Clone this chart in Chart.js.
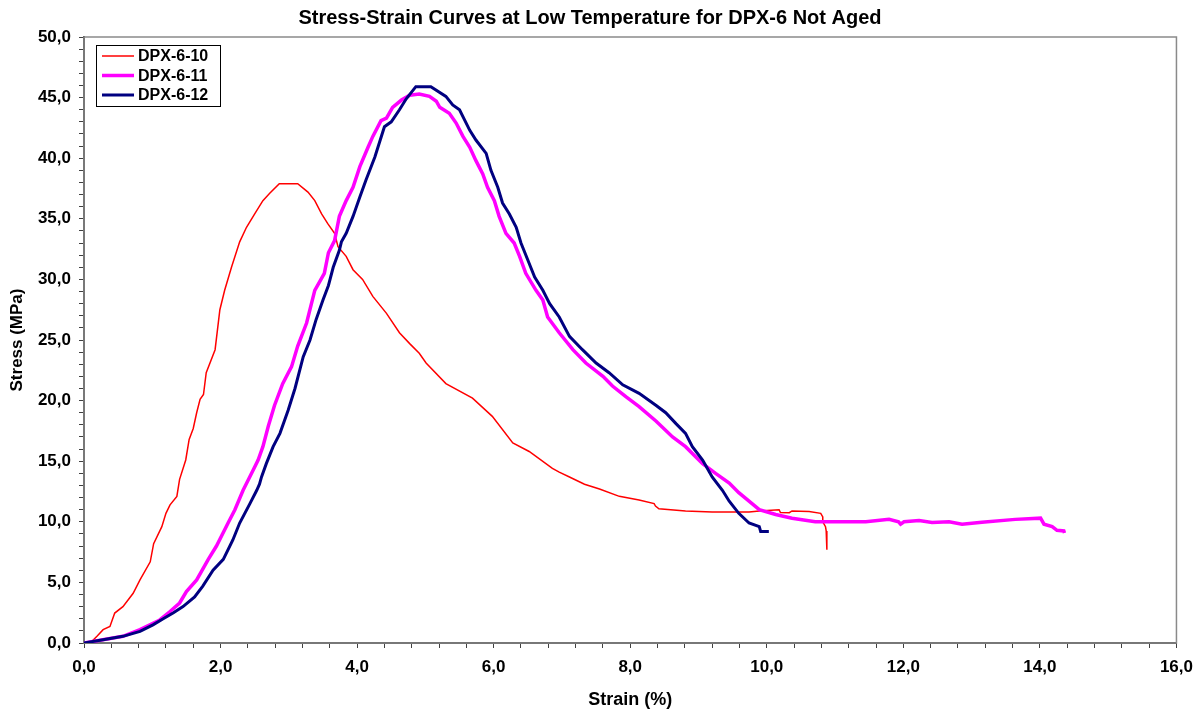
<!DOCTYPE html>
<html>
<head>
<meta charset="utf-8">
<script src="https://cdn.jsdelivr.net/npm/chart.js@4"></script>
<style>
  html, body { margin: 0; padding: 0; background: #fff; }
  #wrap { width: 1202px; height: 713px; }
</style>
</head>
<body>
<div id="wrap"><canvas id="stress"></canvas></div>
<script>
// DPX-6-10
const strain10 = [0, 0.09, 0.19, 0.28, 0.38, 0.45, 0.57, 0.72, 0.82, 0.97, 1.02, 1.14, 1.20, 1.26, 1.36, 1.40,
  1.49, 1.54, 1.60, 1.65, 1.70, 1.75, 1.79, 1.92, 1.99, 2.06, 2.16, 2.28, 2.38, 2.50, 2.62, 2.72, 2.86, 3.13,
  3.28, 3.38, 3.48, 3.57, 3.67, 3.72, 3.84, 3.94, 4.08, 4.23, 4.43, 4.62, 4.77, 4.91, 5.01, 5.30, 5.69, 5.98,
  6.28, 6.52, 6.86, 6.96, 7.11, 7.33, 7.55, 7.84, 8.13, 8.35, 8.37, 8.42, 8.81, 9.20, 9.74, 9.89, 10.18, 10.20,
  10.33, 10.37, 10.62, 10.79, 10.82, 10.82, 10.86, 10.87, 10.88];
const stress10 = [0, 0, 0.55, 1.1, 1.37, 2.47, 3.0, 4.1, 5.2, 6.7, 8.2, 9.6, 10.7, 11.4, 12.1, 13.5,
  15.1, 16.8, 17.7, 19.0, 20.1, 20.5, 22.3, 24.2, 27.5, 29.1, 31.0, 33.1, 34.3, 35.4, 36.5, 37.1, 37.9, 37.9,
  37.2, 36.5, 35.4, 34.6, 33.8, 32.7, 31.9, 30.8, 30.0, 28.6, 27.2, 25.6, 24.7, 23.9, 23.1, 21.4, 20.2, 18.7,
  16.5, 15.8, 14.4, 14.1, 13.7, 13.1, 12.7, 12.1, 11.8, 11.5, 11.3, 11.07, 10.9, 10.8, 10.8, 10.9, 11.0, 10.77,
  10.75, 10.9, 10.85, 10.7, 10.4, 10.0, 9.6, 9.25, 7.7];

// DPX-6-11
const strain11 = [0, 0.57, 0.82, 1.11, 1.26, 1.40, 1.50, 1.65, 1.82, 1.94, 2.11, 2.21, 2.33, 2.48, 2.55, 2.62,
  2.70, 2.79, 2.91, 3.04, 3.13, 3.26, 3.38, 3.52, 3.58, 3.67, 3.74, 3.84, 3.94, 4.04, 4.16, 4.23, 4.35, 4.43,
  4.52, 4.65, 4.77, 4.91, 5.06, 5.16, 5.21, 5.35, 5.45, 5.55, 5.65, 5.74, 5.84, 5.91, 6.01, 6.08, 6.18, 6.30,
  6.38, 6.47, 6.62, 6.72, 6.79, 6.96, 7.16, 7.35, 7.60, 7.74, 7.94, 8.13, 8.38, 8.62, 8.81, 9.06, 9.25, 9.45,
  9.59, 9.74, 9.89, 10.13, 10.37, 10.71, 11.45, 11.79, 11.93, 11.96, 12.01, 12.23, 12.42, 12.67, 12.86, 13.15,
  13.64, 14.01, 14.06, 14.18, 14.25, 14.35, 14.36];
const stress11 = [0, 0.55, 1.1, 1.9, 2.6, 3.3, 4.25, 5.2, 6.9, 8.0, 9.9, 11.0, 12.6, 14.3, 15.1, 16.2,
  17.9, 19.6, 21.4, 22.8, 24.5, 26.4, 29.1, 30.5, 32.2, 33.2, 35.2, 36.5, 37.6, 39.3, 40.9, 41.8, 43.1, 43.3,
  44.2, 44.8, 45.2, 45.3, 45.1, 44.7, 44.2, 43.7, 42.9, 41.8, 40.9, 39.8, 38.7, 37.6, 36.5, 35.2, 33.8, 33.0,
  31.9, 30.5, 29.1, 28.3, 26.9, 25.6, 24.2, 23.1, 22.0, 21.2, 20.3, 19.5, 18.3, 17.0, 16.2, 14.8, 14.0, 13.2,
  12.4, 11.7, 11.0, 10.6, 10.3, 10.0, 10.0, 10.2, 10.0, 9.8, 10.0, 10.1, 9.95, 10.0, 9.8, 9.97,
  10.2, 10.3, 9.8, 9.6, 9.3, 9.25, 9.07];

// DPX-6-12
const strain12 = [0, 0.28, 0.57, 0.82, 1.01, 1.16, 1.31, 1.45, 1.62, 1.74, 1.89, 2.04, 2.18, 2.28, 2.43, 2.53,
  2.57, 2.60, 2.67, 2.77, 2.87, 2.99, 3.09, 3.21, 3.31, 3.40, 3.50, 3.58, 3.65, 3.74, 3.77, 3.84, 3.94, 4.04,
  4.13, 4.26, 4.40, 4.50, 4.62, 4.72, 4.86, 5.08, 5.30, 5.40, 5.50, 5.57, 5.65, 5.74, 5.89, 5.96, 6.06, 6.13,
  6.23, 6.33, 6.40, 6.50, 6.60, 6.72, 6.82, 6.96, 7.11, 7.30, 7.50, 7.69, 7.89, 8.13, 8.38, 8.52, 8.67, 8.81,
  8.91, 9.06, 9.20, 9.35, 9.45, 9.59, 9.74, 9.89, 9.91, 10.03];
const stress12 = [0, 0.27, 0.55, 0.96, 1.5, 2.0, 2.5, 3.0, 3.8, 4.7, 6.0, 6.9, 8.5, 9.9, 11.5, 12.6,
  13.1, 13.7, 14.8, 16.2, 17.3, 19.2, 21.0, 23.6, 25.0, 26.7, 28.3, 29.5, 31.0, 32.4, 33.1, 33.8, 35.2, 36.8,
  38.2, 40.1, 42.6, 43.0, 44.0, 44.9, 45.9, 45.9, 45.1, 44.4, 44.0, 43.2, 42.3, 41.5, 40.4, 39.0, 37.6, 36.3,
  35.4, 34.3, 33.0, 31.6, 30.2, 29.1, 28.0, 26.9, 25.3, 24.2, 23.1, 22.3, 21.3, 20.6, 19.6, 19.0, 18.1, 17.3,
  16.2, 15.1, 13.7, 12.6, 11.7, 10.7, 9.9, 9.6, 9.2, 9.2];

const seriesNames = ['DPX-6-10', 'DPX-6-11', 'DPX-6-12'];

function toPoints(xs, ys) {
  return xs.map((x, i) => ({ x: x, y: ys[i] }));
}

const FONT = "'Liberation Sans', Arial, sans-serif";
const comma = v => v.toFixed(1).replace('.', ',');
const isMult = (v, m) => Math.abs(v / m - Math.round(v / m)) < 1e-6;

// grey frame round the plot area
const framePlugin = {
  id: 'frame',
  beforeDatasetsDraw(chart) {
    const a = chart.chartArea, ctx = chart.ctx;
    ctx.save();
    ctx.strokeStyle = '#8a8a8a';
    ctx.lineWidth = 1.5;
    ctx.strokeRect(a.left, a.top, a.right - a.left, a.bottom - a.top);
    ctx.restore();
  }
};

// legend box in the top left corner of the plot
const boxLegend = {
  id: 'boxLegend',
  afterDraw(chart) {
    const ctx = chart.ctx;
    const a = chart.chartArea;
    const x0 = a.left + 12, y0 = a.top + 8, w = 124, h = 61;
    ctx.save();
    ctx.fillStyle = '#fff';
    ctx.fillRect(x0, y0, w, h);
    ctx.strokeStyle = '#000';
    ctx.lineWidth = 1;
    ctx.strokeRect(x0 + 0.5, y0 + 0.5, w, h);
    ctx.font = 'bold 16px ' + FONT;
    ctx.textBaseline = 'middle';
    chart.data.datasets.forEach((ds, i) => {
      const y = y0 + 11 + i * 19.5;
      ctx.strokeStyle = ds.borderColor;
      ctx.lineWidth = ds.borderWidth;
      ctx.beginPath();
      ctx.moveTo(x0 + 6, y);
      ctx.lineTo(x0 + 38, y);
      ctx.stroke();
      ctx.fillStyle = '#000';
      ctx.fillText(ds.label, x0 + 42, y + 1);
    });
    ctx.restore();
  }
};

new Chart(document.getElementById('stress'), {
  type: 'scatter',
  data: {
    datasets: [
      {
        label: seriesNames[0],
        data: toPoints(strain10, stress10),
        borderColor: '#FF0000',
        borderWidth: 1.5,
        order: 3
      },
      {
        label: seriesNames[1],
        data: toPoints(strain11, stress11),
        borderColor: '#FF00FF',
        borderWidth: 3.5,
        order: 2
      },
      {
        label: seriesNames[2],
        data: toPoints(strain12, stress12),
        borderColor: '#000080',
        borderWidth: 3,
        order: 1
      }
    ]
  },
  options: {
    responsive: true,
    maintainAspectRatio: false,
    animation: false,
    showLine: true,
    elements: {
      point: { radius: 0, hoverRadius: 0 },
      line: { tension: 0, fill: false }
    },
    layout: { padding: { left: 0, right: 22, top: 0, bottom: 0 } },
    plugins: {
      legend: { display: false },
      tooltip: { enabled: false },
      title: {
        display: true,
        text: 'Stress-Strain Curves at Low Temperature for DPX-6 Not Aged',
        color: '#000',
        font: { family: FONT, size: 20, weight: 'bold' },
        padding: { top: 6, bottom: 7 }
      }
    },
    scales: {
      x: {
        type: 'linear',
        min: 0,
        max: 16,
        afterFit(scale) { scale.height = 70; },
        border: { color: '#404040', width: 2 },
        grid: { drawOnChartArea: false, drawTicks: true, tickLength: 5, tickColor: '#404040', tickWidth: 1 },
        ticks: {
          stepSize: 0.4,
          autoSkip: false,
          maxRotation: 0,
          padding: 9,
          color: '#000',
          font: { family: FONT, size: 17, weight: 'bold' },
          callback: v => isMult(v, 2) ? comma(v) : ''
        },
        title: {
          display: true,
          text: 'Strain (%)',
          color: '#000',
          font: { family: FONT, size: 18, weight: 'bold' },
          padding: { top: 0, bottom: 2 }
        }
      },
      y: {
        type: 'linear',
        min: 0,
        max: 50,
        afterFit(scale) { scale.width = 84; },
        border: { color: '#404040', width: 2 },
        grid: { drawOnChartArea: false, drawTicks: true, tickLength: 5, tickColor: '#404040', tickWidth: 1 },
        ticks: {
          stepSize: 1,
          autoSkip: false,
          padding: 8,
          color: '#000',
          font: { family: FONT, size: 17, weight: 'bold' },
          callback: v => isMult(v, 5) ? comma(v) : ''
        },
        title: {
          display: true,
          text: 'Stress (MPa)',
          color: '#000',
          font: { family: FONT, size: 17, weight: 'bold' },
          padding: { top: 7, bottom: 0 }
        }
      }
    }
  },
  plugins: [framePlugin, boxLegend]
});
</script>
</body>
</html>
